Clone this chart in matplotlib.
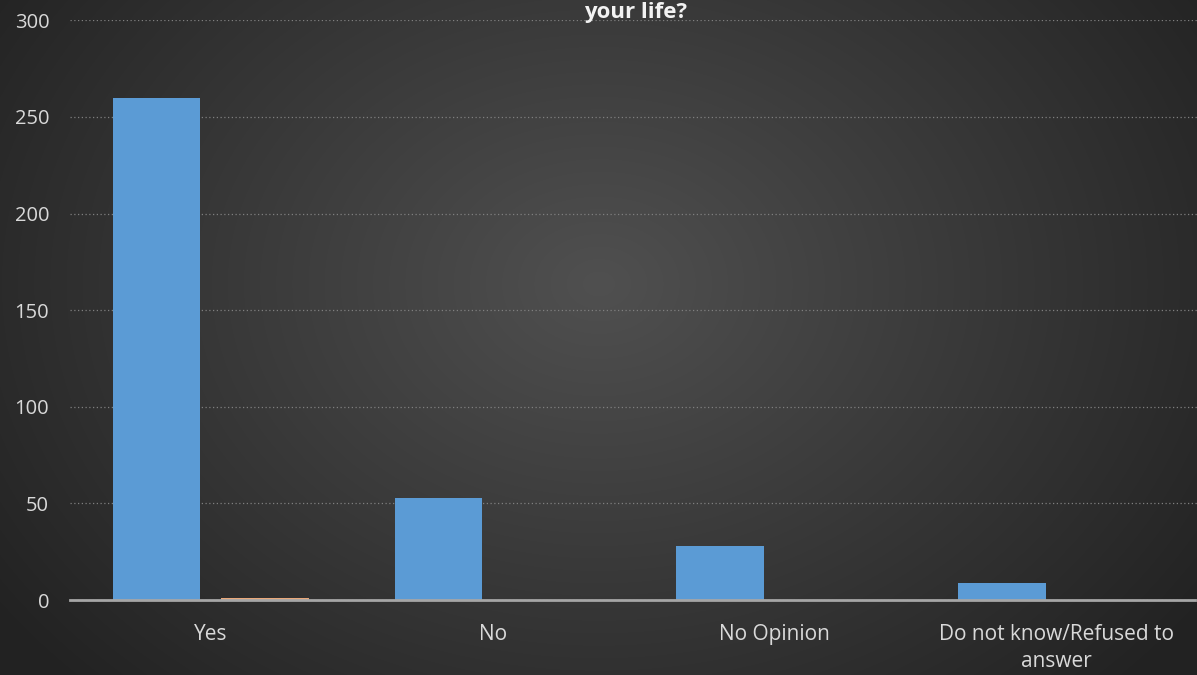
import numpy as np
import matplotlib
matplotlib.use("Agg")
import matplotlib.pyplot as plt

categories = ["Yes", "No", "No Opinion", "Do not know/Refused to\nanswer"]
series_a = [260, 53, 28, 9]
series_b = [1, 0, 0, 0]
yticks = [0, 50, 100, 150, 200, 250, 300]
title = "your life?"

plt.rcParams['font.family'] = ['Open Sans', 'DejaVu Sans']

fig = plt.figure(figsize=(11.97, 6.75), dpi=100)

# radial gradient background
bg = fig.add_axes([0, 0, 1, 1], zorder=0)
h, w = 675, 1197
yy, xx = np.mgrid[0:h, 0:w]
cx, cy = w * 0.5, h * 0.42
r = np.sqrt(((xx - cx) / (w * 0.62)) ** 2 + ((yy - cy) / (h * 0.85)) ** 2)
r = np.clip(r, 0, 1)
inner = np.array([0x50, 0x50, 0x50]) / 255
outer = np.array([0x22, 0x22, 0x22]) / 255
img = inner[None, None, :] * (1 - r[..., None]) + outer[None, None, :] * r[..., None]
bg.imshow(img, aspect='auto', extent=[0, 1, 0, 1], origin='upper')
bg.axis('off')

ax = fig.add_axes([0.0585, 0.111, 0.9415, 0.859], zorder=1)
ax.patch.set_alpha(0)
x = np.arange(len(categories))
bw = 0.31
gap = 0.075
off = (bw + gap) / 2
ax.bar(x - off, series_a, width=bw, color='#5b9bd5', zorder=3)
ax.bar(x + off, series_b, width=bw, color='#e9a87a', zorder=3)

ax.set_xlim(-0.5, len(categories) - 0.5)
ax.set_ylim(0, 300)
ax.set_yticks(yticks)
ax.set_yticklabels([str(t) for t in yticks])
ax.set_xticks(x)
ax.set_xticklabels(categories)
for s in ['top', 'right', 'left']:
    ax.spines[s].set_visible(False)
ax.spines['bottom'].set_color('#a6a6a6')
ax.spines['bottom'].set_linewidth(2.0)
ax.spines['bottom'].set_linestyle((0, (1, 1)))
ax.spines['bottom'].set_zorder(4)
ax.tick_params(axis='both', length=0, colors='#d9d9d9')
ax.tick_params(axis='y', pad=15, labelsize=14.5)
ax.tick_params(axis='x', pad=17, labelsize=15)
for t in ax.get_xticklabels():
    t.set_linespacing(1.4)
ax.yaxis.grid(True, color='#7f7f7f', linestyle=(0, (1, 2)), linewidth=0.9, zorder=0)
ax.set_axisbelow(True)

fig.text(0.531, 0.997, title, ha='center', va='top', color='#f2f2f2',
         fontsize=16, fontweight='bold')

fig.savefig("out.png", dpi=100, facecolor='#333333')
